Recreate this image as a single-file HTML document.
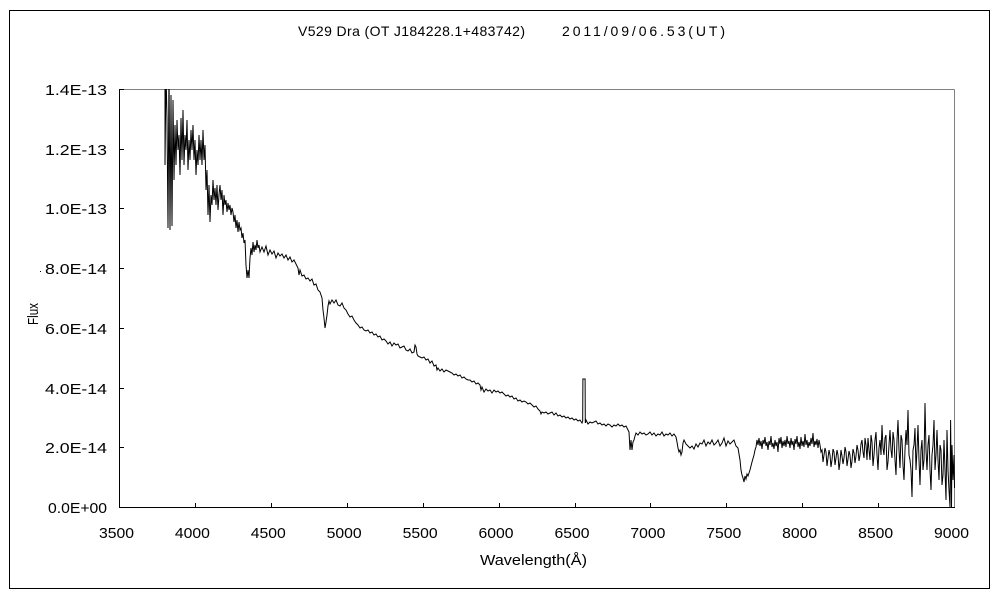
<!DOCTYPE html>
<html>
<head>
<meta charset="utf-8">
<style>
html,body{margin:0;padding:0;background:#fff;}
svg{display:block;}
text{font-family:"Liberation Sans","Noto Sans CJK JP",sans-serif;fill:#000;}
</style>
</head>
<body>
<svg width="1000" height="600" viewBox="0 0 1000 600" xmlns="http://www.w3.org/2000/svg">
<rect x="0" y="0" width="1000" height="600" fill="#fff"/>
<rect x="9.5" y="10.5" width="980" height="578" fill="none" stroke="#000" stroke-width="1" shape-rendering="crispEdges"/>
<text x="298" y="36" font-size="14" textLength="227" lengthAdjust="spacing">V529 Dra (OT J184228.1+483742)</text>
<text x="562" y="36" font-size="14" textLength="163" lengthAdjust="spacing">2011/09/06.53(UT)</text>
<defs><clipPath id="pc"><rect x="119" y="89" width="836" height="419"/></clipPath></defs>
<g shape-rendering="crispEdges" stroke-width="1">
<line x1="119" y1="89.5" x2="954.5" y2="89.5" stroke="#808080"/>
<line x1="954.5" y1="89.5" x2="954.5" y2="507" stroke="#808080"/>
<line x1="119.5" y1="89" x2="119.5" y2="507.5" stroke="#000"/>
<line x1="119" y1="507.5" x2="955" y2="507.5" stroke="#000"/>
<g stroke="#000">
<line x1="119" y1="89.5" x2="124" y2="89.5"/>
<line x1="119" y1="149.5" x2="124" y2="149.5"/>
<line x1="119" y1="208.5" x2="124" y2="208.5"/>
<line x1="119" y1="268.5" x2="124" y2="268.5"/>
<line x1="119" y1="328.5" x2="124" y2="328.5"/>
<line x1="119" y1="388.5" x2="124" y2="388.5"/>
<line x1="119" y1="447.5" x2="124" y2="447.5"/>
<line x1="195.5" y1="503" x2="195.5" y2="507"/>
<line x1="271.5" y1="503" x2="271.5" y2="507"/>
<line x1="347.5" y1="503" x2="347.5" y2="507"/>
<line x1="423.5" y1="503" x2="423.5" y2="507"/>
<line x1="499.5" y1="503" x2="499.5" y2="507"/>
<line x1="575.5" y1="503" x2="575.5" y2="507"/>
<line x1="650.5" y1="503" x2="650.5" y2="507"/>
<line x1="726.5" y1="503" x2="726.5" y2="507"/>
<line x1="802.5" y1="503" x2="802.5" y2="507"/>
<line x1="878.5" y1="503" x2="878.5" y2="507"/>
</g>
</g>
<g font-size="15" text-anchor="end">
<text x="107" y="95" textLength="62" lengthAdjust="spacingAndGlyphs">1.4E-13</text>
<text x="107" y="155" textLength="62" lengthAdjust="spacingAndGlyphs">1.2E-13</text>
<text x="107" y="214" textLength="62" lengthAdjust="spacingAndGlyphs">1.0E-13</text>
<text x="107" y="274" textLength="62" lengthAdjust="spacingAndGlyphs">8.0E-14</text>
<text x="107" y="334" textLength="62" lengthAdjust="spacingAndGlyphs">6.0E-14</text>
<text x="107" y="394" textLength="62" lengthAdjust="spacingAndGlyphs">4.0E-14</text>
<text x="107" y="453" textLength="62" lengthAdjust="spacingAndGlyphs">2.0E-14</text>
<text x="107" y="513" textLength="59" lengthAdjust="spacingAndGlyphs">0.0E+00</text>
</g>
<g font-size="15" text-anchor="middle">
<text x="116.5" y="538" textLength="35" lengthAdjust="spacingAndGlyphs">3500</text>
<text x="192.4" y="538" textLength="35" lengthAdjust="spacingAndGlyphs">4000</text>
<text x="268.3" y="538" textLength="35" lengthAdjust="spacingAndGlyphs">4500</text>
<text x="344.2" y="538" textLength="35" lengthAdjust="spacingAndGlyphs">5000</text>
<text x="420.1" y="538" textLength="35" lengthAdjust="spacingAndGlyphs">5500</text>
<text x="496" y="538" textLength="35" lengthAdjust="spacingAndGlyphs">6000</text>
<text x="572" y="538" textLength="35" lengthAdjust="spacingAndGlyphs">6500</text>
<text x="647.9" y="538" textLength="35" lengthAdjust="spacingAndGlyphs">7000</text>
<text x="723.8" y="538" textLength="35" lengthAdjust="spacingAndGlyphs">7500</text>
<text x="799.7" y="538" textLength="35" lengthAdjust="spacingAndGlyphs">8000</text>
<text x="875.6" y="538" textLength="35" lengthAdjust="spacingAndGlyphs">8500</text>
<text x="951.5" y="538" textLength="35" lengthAdjust="spacingAndGlyphs">9000</text>
</g>
<text x="480" y="565" font-size="15" textLength="107" lengthAdjust="spacingAndGlyphs">Wavelength(Å)</text>
<text transform="translate(38,325) rotate(-90)" font-size="15" textLength="22" lengthAdjust="spacingAndGlyphs">Flux</text>
<rect x="40" y="271" width="1" height="1" fill="#000"/>
<path fill="none" stroke="#000" stroke-width="1" clip-path="url(#pc)" d="M165,60 L165,165 L166,70 L167,120 L168,228 L169,70 L170,230 L171,95 L172,226 L173,100 L174,180 L175,125 L176,165 L177,120 L178,150 L179,135 L180,175 L181,118 L182,160 L183,110 L184,165 L185,135 L186,150 L187,120 L188,170 L189,140 L190,160 L191,130 L192,150 L193,125 L194,160 L195,140 L196,175 L197,150 L198,165 L199,135 L200,160 L201,140 L202,165 L203,130 L204,160 L205,145 L206,190 L207,170 L208,215 L209,185 L210,222 L211,195 L212,205 L213,180 L214,200 L215,188 L216,205 L217,185 L218,210 L219,195 L220,185 L221,200 L222,190 L223,215 L224,195 L225,205 L226,200 L227,212 L228,203 L229,210 L230,205 L231,215 L232,208 L233,212 L234,222 L235,215 L236,228 L237,220 L238,232 L239,222 L240,230 L241,228 L242,238 L243,233 L244,243 L245,240 L246,265 L247,278 L248,270 L249,278 L250,258 L251,248 L252,255 L253,242 L254,252 L255,245 L256,250 L257,240 L258,248 L259,245 L260,252 L262,247 L264,252 L266,246 L268,255 L270,250 L272,254 L274,251 L276,258 L278,253 L280,256 L282,254 L284,258 L286,255 L288,260 L290,257 L292,262 L294,260 L296,264 L298,268 L299,275 L300,270 L302,276 L304,275 L306,279 L308,278 L310,281 L312,279 L314,285 L316,284 L318,290 L320,292 L322,298 L323,310 L324,318 L325,328 L326,322 L327,315 L328,306 L329,301 L330,304 L331,302 L332,300 L334,303 L336,300 L338,305 L340,306 L342,303 L344,308 L346,310 L348,314 L350,317 L352,316 L354,320 L356,323 L358,325 L360,328 L362,327 L364,330 L366,331 L368,330 L370,333 L372,332 L374,335 L376,334 L378,337 L380,336 L382,340 L384,339 L386,341 L388,344 L390,342 L392,346 L394,343 L396,345 L398,344 L400,348 L402,347 L404,346 L406,350 L408,351 L410,349 L412,353 L414,352 L415,345 L416,347 L417,354 L418,356 L420,357 L422,358 L424,357 L426,360 L428,359 L430,363 L432,361 L434,366 L436,365 L437,370 L438,368 L440,371 L442,369 L444,372 L446,370 L448,371 L450,372 L452,373 L454,375 L456,374 L458,376 L460,375 L462,378 L464,377 L466,379 L468,380 L470,380 L472,382 L474,381 L476,384 L478,383 L480,385 L481,390 L482,387 L484,392 L486,389 L488,391 L490,390 L492,393 L494,390 L496,392 L498,391 L500,393 L502,392 L504,394 L506,396 L508,395 L510,397 L512,396 L514,399 L516,398 L518,401 L520,400 L522,402 L524,401 L526,402 L528,404 L530,403 L532,405 L534,407 L536,406 L538,409 L540,411 L541,414 L542,412 L544,413 L546,412 L548,414 L550,413 L552,412 L554,415 L556,413 L558,416 L560,415 L562,417 L564,416 L566,418 L568,417 L570,419 L572,418 L574,420 L576,419 L578,421 L580,420 L582,423 L582.7,421 L582.9,379 L585.1,379 L585.3,423 L586,420 L588,424 L590,422 L592,423 L594,422 L596,421 L598,424 L600,423 L602,425 L604,424 L606,426 L608,424 L610,425 L612,427 L614,425 L616,426 L618,424 L620,426 L622,425 L624,427 L626,426 L628,430 L629,432 L630,450 L631,440 L632,450 L633,442 L634,440 L635,436 L636,433 L638,435 L640,432 L642,434 L644,433 L646,435 L648,434 L650,432 L652,435 L654,433 L656,436 L658,434 L660,435 L662,432 L664,436 L666,434 L668,435 L670,433 L672,436 L674,434 L676,437 L677,442 L678,448 L679,452 L680,450 L681,455 L682,452 L683,443 L684,440 L686,444 L688,446 L690,448 L692,446 L694,449 L696,444 L698,447 L700,443 L702,444 L704,440 L706,446 L708,442 L710,444 L712,440 L714,445 L716,443 L718,440 L720,446 L722,443 L724,438 L726,446 L728,441 L730,444 L732,442 L734,440 L736,446 L738,448 L740,460 L741,470 L742,475 L743,478 L744,482 L745,476 L746,479 L747,474 L748,476 L750,470 L752,462 L754,455 L755,450 L756,447 L757,440 L758,445 L759,438 L760,446 L761,441 L762,449 L763,440 L764,444 L765,437 L766,446 L767,442 L768,450 L769,441 L770,445 L771,436 L772,447 L773,443 L774,449 L775,440 L776,446 L777,442 L778,452 L779,438 L780,444 L781,437 L782,448 L783,441 L784,446 L785,440 L786,447 L787,436 L788,444 L789,441 L790,448 L791,438 L792,445 L793,441 L794,450 L795,439 L796,444 L797,436 L798,447 L799,442 L800,449 L801,437 L802,446 L803,441 L804,447 L805,434 L806,445 L807,440 L808,448 L809,442 L810,446 L811,438 L812,444 L813,433 L814,447 L815,441 L816,445 L817,439 L818,448 L819,440 L820,445 L821,452 L822,450 L823,462 L824,455 L825,448 L826,452 L827,466 L828,458 L829,450 L830,455 L831,467 L832,460 L833,449 L834,452 L835,465 L836,458 L837,450 L838,455 L839,470 L840,462 L841,450 L842,456 L843,464 L844,458 L845,447 L846,452 L847,466 L848,459 L849,451 L850,455 L851,468 L852,461 L853,449 L854,453 L855,463 L856,456 L857,445 L858,450 L859,461 L860,455 L861,444 L862,440 L863,452 L864,458 L865,438 L866,445 L867,460 L868,438 L869,450 L870,460 L871,435 L872,442 L873,466 L874,455 L875,440 L876,432 L877,455 L878,470 L879,448 L880,440 L881,455 L882,425 L883,448 L884,455 L885,438 L886,435 L887,470 L888,462 L889,445 L890,430 L891,450 L892,458 L893,432 L894,440 L895,460 L896,475 L897,440 L898,420 L899,450 L900,468 L901,435 L902,440 L903,465 L904,480 L905,450 L906,430 L907,445 L908,410 L909,455 L910,460 L911,470 L912,497 L913,450 L914,445 L915,428 L916,470 L917,450 L918,425 L919,460 L920,485 L921,450 L922,440 L923,470 L924,460 L925,403 L926,450 L927,470 L928,445 L929,435 L930,470 L931,490 L932,455 L933,445 L934,420 L935,470 L936,455 L937,430 L938,460 L939,480 L940,445 L941,450 L942,485 L943,475 L944,440 L945,470 L946,500 L947,430 L948,470 L949,490 L950,507 L950.6,420 L951.5,507 L952,445 L953,480 L954,455 L954.5,488"/>
</svg>
</body>
</html>
